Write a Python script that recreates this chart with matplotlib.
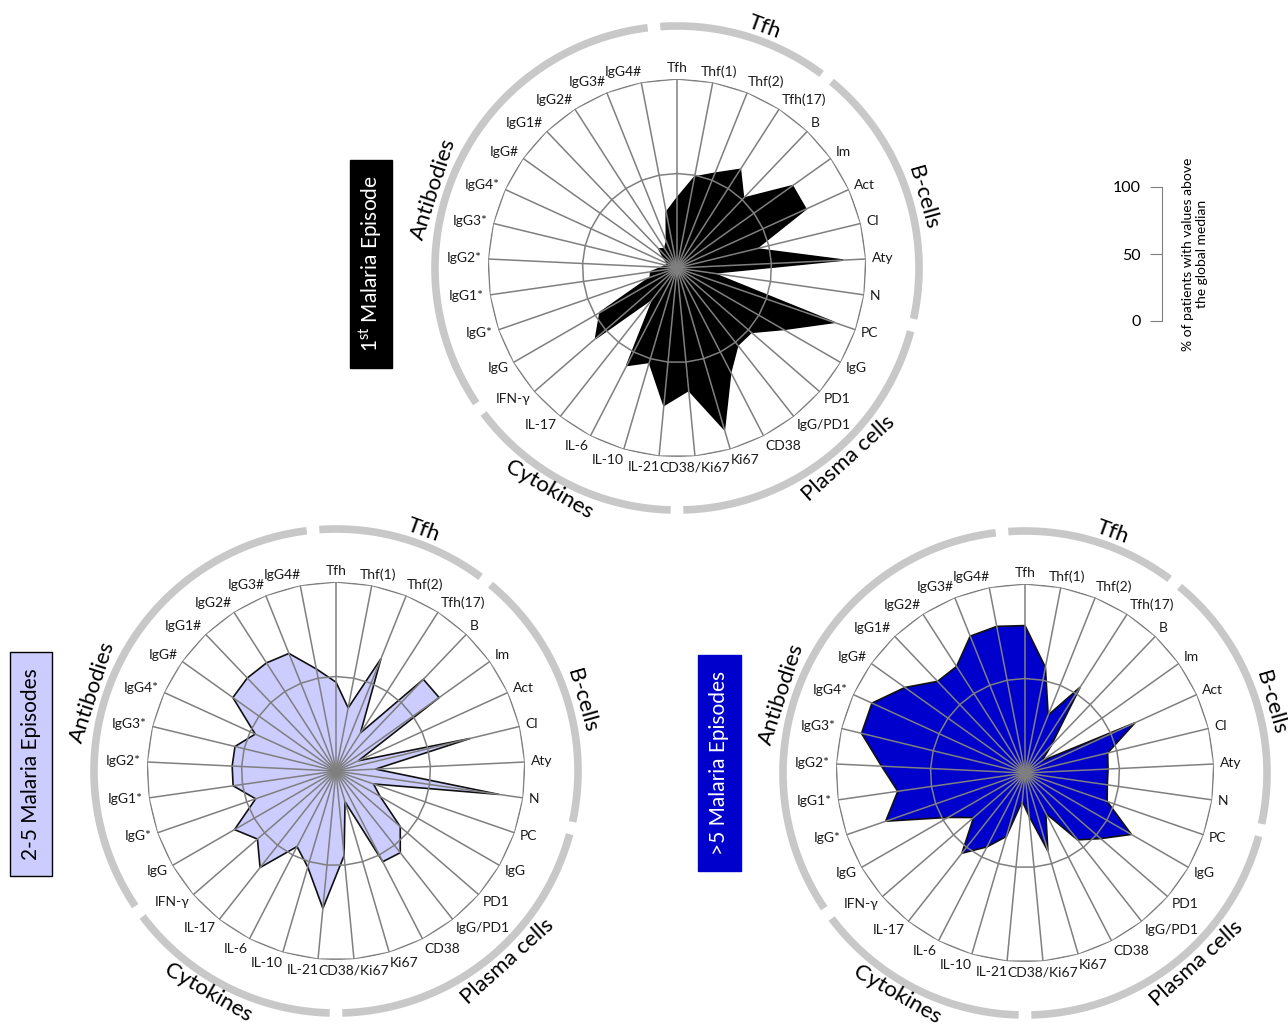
import numpy as np
import matplotlib.pyplot as plt
from matplotlib.patches import Rectangle

plt.rcParams['font.family'] = ['Lato', 'DejaVu Sans']
plt.rcParams['mathtext.fontset'] = 'custom'
plt.rcParams['mathtext.rm'] = 'Lato'

# spokes, clockwise from the top
labels = ['Tfh', 'Thf(1)', 'Thf(2)', 'Tfh(17)', 'B', 'Im', 'Act', 'Cl', 'Aty', 'N',
          'PC', 'IgG', 'PD1', 'IgG/PD1', 'CD38', 'Ki67', 'CD38/Ki67',
          'IL-21', 'IL-10', 'IL-6', 'IL-17', 'IFN-γ',
          'IgG', 'IgG*', 'IgG1*', 'IgG2*', 'IgG3*', 'IgG4*',
          'IgG#', 'IgG1#', 'IgG2#', 'IgG3#', 'IgG4#']

# % of patients with values above the global median
first_episode = [37, 49, 54, 62, 51, 75, 75, 43, 88, 19,
                 88, 65, 52, 52, 62, 89, 65,
                 73, 52, 58, 20, 57,
                 47, 15, 14, 8, 6, 5, 8, 14, 12, 15, 30]
two_to_five = [47, 34, 64, 24, 67, 67, 13, 73, 21, 87,
               21, 27, 45, 55, 54, 17, 45,
               73, 53, 45, 65, 55,
               62, 45, 55, 55, 55, 47, 67, 68, 68, 67, 55]
more_than_five = [78, 57, 33, 54, 20, 11, 64, 45, 44, 44,
                  46, 65, 53, 45, 24, 43, 23,
                  15, 35, 44, 54, 36,
                  47, 78, 68, 76, 89, 89, 78, 67, 67, 78, 79]

groups = ['Tfh', 'B-cells', 'Plasma cells', 'Cytokines', 'Antibodies']
group_start = [0, 4, 10, 17, 22]
group_label_pos = [20, 74, 138, 210, 288]   # compass degrees
scale_ticks = [0, 50, 100]

W, H = 1288, 1027
R = 189
fig = plt.figure(figsize=(W / 100, H / 100), dpi=100)
renderer = fig.canvas.get_renderer()
GRID = '#7f7f7f'
ARC = '#c8c8c8'


def label_offset(sx, sy, hw, hh):
    # roughly the way the spreadsheet placed its category labels
    if abs(sx) < 0.02:
        ox = 0
    elif sx < 0:
        ox = -(hw + 8 * abs(sx)) + 2
    elif sx < 0.12:
        ox = 0
    elif sx < 0.25:
        ox = hw - 12
    else:
        ox = hw + 8 * sx - 2
    return ox, sy * (hh + 5)


def radar(cx, cy, vals, fc, ec):
    ax = fig.add_axes([(cx - R) / W, 1 - (cy + R) / H, 2 * R / W, 2 * R / H],
                      projection='polar')
    ax.set_theta_zero_location('N')
    ax.set_theta_direction(-1)
    ax.set_ylim(0, 100)
    ax.axis('off')
    n = len(labels)
    th = np.arange(n) * 2 * np.pi / n
    tc = np.append(th, th[0])
    ax.fill(tc, np.append(vals, vals[0]), fc=fc, ec=ec, lw=1.2, zorder=2)
    for r in (50, 100):
        ax.plot(tc, [r] * (n + 1), color=GRID, lw=1.1, zorder=3)
    for t in th:
        ax.plot([t, t], [0, 100], color=GRID, lw=1.1, zorder=3)

    for t, lab in zip(th, labels):
        a = ax.annotate(lab, xy=(t, 100), xytext=(0, 0), textcoords='offset pixels',
                        ha='center', va='center', fontsize=10, color='#1a1a1a',
                        annotation_clip=False)
        bb = a.get_window_extent(renderer)
        a.xyann = label_offset(np.sin(t), np.cos(t), bb.width / 2, bb.height / 2)

    # group arcs + names
    step = 360 / n
    bounds = group_start + [n]
    arc_r = 242 / R * 100
    for g in range(len(groups)):
        a0 = (bounds[g] - 0.5) * step + 1.5
        a1 = (bounds[g + 1] - 0.5) * step - 1.5
        tt = np.radians(np.linspace(a0, a1, 120))
        ax.plot(tt, [arc_r] * len(tt), color=ARC, lw=5.5, clip_on=False,
                solid_capstyle='butt')
        c = group_label_pos[g]
        rot = -c if (c < 90 or c > 270) else 180 - c
        ax.text(np.radians(c), 256 / R * 100, groups[g], rotation=rot,
                ha='center', va='center', fontsize=16, clip_on=False,
                rotation_mode='anchor')
    return ax


radar(677, 268, first_episode, 'black', 'black')
radar(336, 771, two_to_five, '#ccccff', '#111111')
radar(1025, 773, more_than_five, '#0000cc', '#111111')


def side_box(x0, y0, x1, y1, fc, ec, txt, tc):
    fig.add_artist(Rectangle((x0 / W, 1 - y1 / H), (x1 - x0) / W, (y1 - y0) / H,
                             transform=fig.transFigure, fc=fc, ec=ec, lw=1))
    fig.text((x0 + x1) / 2 / W, 1 - (y0 + y1) / 2 / H, txt, rotation=90,
             ha='center', va='center', color=tc, fontsize=15)


side_box(350, 160, 392, 368, 'black', 'black', '1$^{\\rm st}$ Malaria Episode', 'white')
side_box(10, 652, 52, 876, '#ccccff', 'black', '2-5 Malaria Episodes', 'black')
side_box(698, 655, 741, 871, '#0000cc', '#0000cc', '>5 Malaria Episodes', 'white')

# scale bar
sax = fig.add_axes([1162 / W, 1 - 321 / H, 0.0008, 134 / H])
sax.set_ylim(0, 100)
sax.set_yticks(scale_ticks)
sax.set_xticks([])
for s in ['top', 'right', 'bottom']:
    sax.spines[s].set_visible(False)
sax.spines['left'].set_color(GRID)
sax.patch.set_visible(False)
sax.tick_params(axis='y', length=9, color=GRID, labelsize=11.5, pad=6)
sax.set_ylabel('% of patients with values above\nthe global median', fontsize=10,
               labelpad=14)
sax.yaxis.set_label_position('right')

fig.savefig('out.png', dpi=100)
